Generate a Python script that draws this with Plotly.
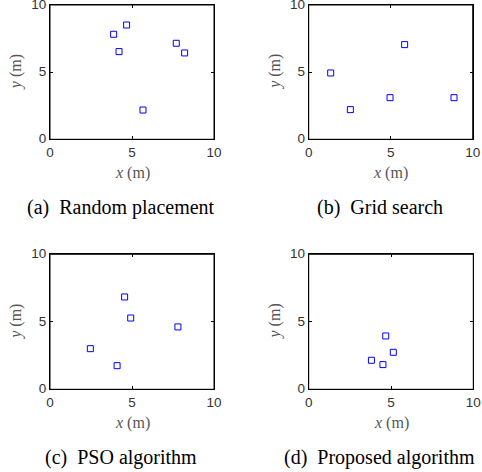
import plotly.graph_objects as go

# data
titles = ["(a)&#8194;Random placement", "(b)&#8194;Grid search", "(c)&#8194;PSO algorithm", "(d)&#8194;Proposed algorithm"]
x_a = [3.88, 4.67, 4.21, 7.70, 8.21, 5.67]
y_a = [7.82, 8.51, 6.53, 7.15, 6.43, 2.18]
x_b = [1.34, 2.54, 4.96, 5.85, 8.86]
y_b = [4.94, 2.21, 3.10, 7.05, 3.10]
x_c = [4.55, 4.92, 7.80, 2.46, 4.09]
y_c = [6.84, 5.28, 4.62, 3.01, 1.75]
x_d = [4.68, 5.14, 3.81, 4.51]
y_d = [3.95, 2.74, 2.15, 1.83]
tick_vals = [0, 5, 10]
tick_text = ["0", "5", "10"]

W, H = 482, 472
# panel pixel boxes (left, right, top, bottom)
boxes = [(50, 214, 5, 139.3), (308.7, 472.7, 5, 139.3),
         (50, 214, 254.3, 389.3), (308.7, 473.3, 254.3, 389.3)]
cap_x = [121, 379.5, 121, 379.5]
data = [(x_a, y_a), (x_b, y_b), (x_c, y_c), (x_d, y_d)]

fig = go.Figure()
ann = []
shapes = []
lay = {}
for i, ((l, r, t, b), (xs, ys)) in enumerate(zip(boxes, data)):
    n = "" if i == 0 else str(i + 1)
    fig.add_trace(go.Scatter(
        x=xs, y=ys, mode="markers", xaxis="x" + n, yaxis="y" + n,
        marker=dict(symbol="square-open", size=6, color="#0000ff", line=dict(width=1, color="#0000ff")),
        showlegend=False, hoverinfo="skip", cliponaxis=False))
    ax = dict(range=[0, 10], tickvals=tick_vals, ticktext=tick_text, ticks="inside", ticklen=3,
              tickcolor="black", tickwidth=1, showline=True, linecolor="black", linewidth=1, mirror="allticks",
              showgrid=False, zeroline=False, fixedrange=True, automargin=False, ticklabeloverflow="allow",
              tickfont=dict(family="Liberation Sans, Arial", size=13.5, color="#333"))
    lay["xaxis" + n] = dict(ax, domain=[l / W, r / W], anchor="y" + n)
    lay["yaxis" + n] = dict(ax, domain=[1 - b / H, 1 - t / H], anchor="x" + n, ticklabelshift=-1)
    cx = (l + r) / 2
    cy = (t + b) / 2
    shapes.append(dict(type="rect", xref="paper", yref="paper", x0=l / W, x1=r / W, y0=1 - b / H, y1=1 - t / H,
                       line=dict(color="black", width=1), layer="above"))
    ann.append(dict(x=cx / W, y=1 - (b + 34) / H, xref="paper", yref="paper",
                    text="<i>x</i> (m)", showarrow=False, xanchor="center", yanchor="middle",
                    font=dict(family="Liberation Serif, Times New Roman", size=16, color="#555")))
    ann.append(dict(x=(l - 34) / W, y=1 - cy / H, xref="paper", yref="paper",
                    text="<i>y</i> (m)", showarrow=False, textangle=-90, xanchor="center", yanchor="middle",
                    font=dict(family="Liberation Serif, Times New Roman", size=16, color="#555")))
    ann.append(dict(x=cap_x[i] / W, y=1 - (b + 68) / H, xref="paper", yref="paper",
                    text=titles[i], showarrow=False, xanchor="center", yanchor="middle",
                    font=dict(family="Liberation Serif, Times New Roman", size=20, color="black")))

fig.update_layout(width=W, height=H, margin=dict(l=0, r=0, t=0, b=0, autoexpand=False),
                  paper_bgcolor="white", plot_bgcolor="white", annotations=ann, shapes=shapes, **lay)
fig.write_html("out.html", config={"displayModeBar": False, "staticPlot": True},
               post_script="document.body.style.margin='0';document.body.style.overflow='hidden';")
